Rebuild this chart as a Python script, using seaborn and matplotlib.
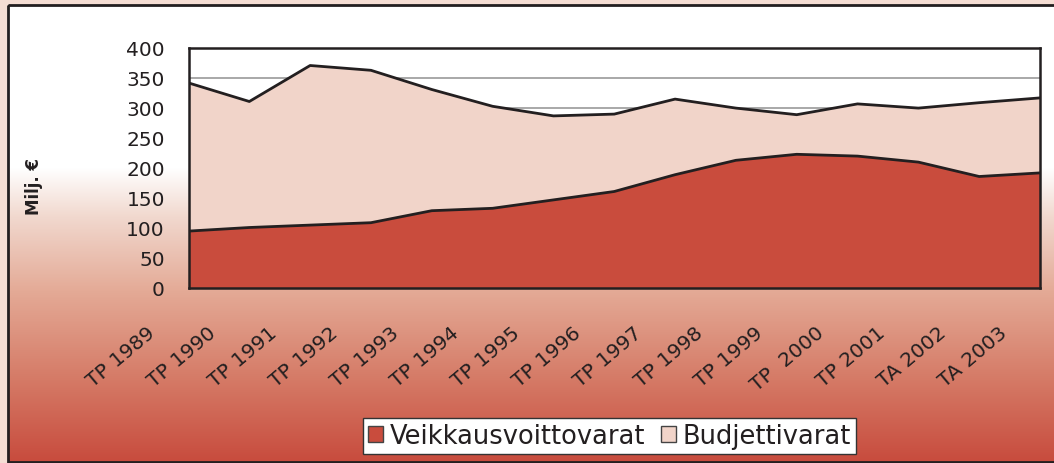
import numpy as np
import pandas as pd
import seaborn as sns
import matplotlib.pyplot as plt
import matplotlib.transforms as mtransforms
from matplotlib.patches import Patch, Rectangle

years = ['TP 1989', 'TP 1990', 'TP 1991', 'TP 1992', 'TP 1993', 'TP 1994', 'TP 1995',
         'TP 1996', 'TP 1997', 'TP 1998', 'TP 1999', 'TP  2000', 'TP 2001', 'TA 2002', 'TA 2003']
veikkaus = [94, 100, 104, 108, 128, 132, 146, 160, 188, 212, 222, 219, 209, 185, 191]
budjetti = [247, 210, 266, 254, 202, 170, 140, 129, 126, 87, 66, 87, 90, 123, 125]
yticks = [0, 50, 100, 150, 200, 250, 300, 350, 400]

RED = '#C94C3D'
PINK = '#F1D4C9'
DARK = '#231F20'

df = pd.DataFrame({'vuosi': years, 'Veikkausvoittovarat': veikkaus, 'Budjettivarat': budjetti})
df['x'] = np.arange(len(df))
df['yhteensa'] = df['Veikkausvoittovarat'] + df['Budjettivarat']

sns.set_theme(style='white')
plt.rcParams['font.family'] = ['DejaVu Sans']
plt.rcParams['text.color'] = DARK

W, H = 1054, 464
fig = plt.figure(figsize=(W / 100, H / 100), dpi=100)

# background: gradient panel with dark frame
bg = fig.add_axes([0, 0, 1, 1], zorder=-10)
bg.set_xlim(0, W)
bg.set_ylim(H, 0)
bg.axis('off')
stops_y = [0, 165, 215, 290, 380, 462, 464]
stops_c = np.array([(255, 255, 255), (255, 255, 255), (241, 216, 206), (228, 170, 150),
                    (213, 122, 102), (200, 76, 62), (200, 76, 62)]) / 255
yy = np.arange(H)
grad = np.stack([np.interp(yy, stops_y, stops_c[:, k]) for k in range(3)], axis=1)
img = np.repeat(grad[:, None, :], 2, axis=1)
bg.add_patch(Rectangle((0, 0), W, H, color='#F5DED4', zorder=0))
bg.imshow(img, extent=(8, W + 5, 463, 6), aspect='auto', zorder=1)
bg.add_patch(Rectangle((7.5, 5.5), W, 457, fill=False, edgecolor=DARK, lw=2, zorder=2))

ax = fig.add_axes([188.5 / W, 1 - 288.5 / H, (1040 - 188.5) / W, (288.5 - 48.5) / H])
ax.set_facecolor('white')

ax.fill_between(df['x'], 0, df['Veikkausvoittovarat'], color=RED, lw=0, zorder=2)
ax.fill_between(df['x'], df['Veikkausvoittovarat'], df['yhteensa'], color=PINK, lw=0, zorder=2)
sns.lineplot(data=df, x='x', y='Veikkausvoittovarat', color=DARK, lw=2, ax=ax, zorder=3)
sns.lineplot(data=df, x='x', y='yhteensa', color=DARK, lw=2, ax=ax, zorder=3)

ax.set_xlim(0, len(df) - 1)
ax.set_ylim(0, 400)
ax.set_yticks(yticks)
ax.set_yticklabels([str(v) for v in yticks], fontsize=14.5)
ax.yaxis.grid(True, color='#9A9A9A', lw=1.2, zorder=1)
ax.set_axisbelow(True)
for s in ax.spines.values():
    s.set_color(DARK)
    s.set_linewidth(1.8)
    s.set_zorder(4)

ax.tick_params(axis='both', direction='out', length=5, width=1.5, color=DARK, labelcolor=DARK)
ax.tick_params(axis='y', pad=12)
ax.set_xticks(df['x'])
ax.set_xticklabels(df['vuosi'], fontsize=14.5, rotation=40, ha='right', va='top',
                   rotation_mode='anchor')
offset = mtransforms.ScaledTranslation(-42 / 100, -23 / 100, fig.dpi_scale_trans)
for lab in ax.get_xticklabels():
    lab.set_transform(lab.get_transform() + offset)

ax.set_xlabel('')
ax.set_ylabel('')
fig.text(34 / W, 1 - 187 / H, 'Milj. €', rotation=90, ha='center', va='center',
         fontsize=12, fontweight='bold', color=DARK)

handles = [Patch(facecolor=RED, edgecolor='#444444', lw=1),
           Patch(facecolor=PINK, edgecolor='#444444', lw=1)]
leg = fig.legend(handles, ['Veikkausvoittovarat', 'Budjettivarat'], loc='center',
                 bbox_to_anchor=(609.5 / W, 1 - 437 / H), ncol=2, frameon=True,
                 fancybox=False, edgecolor='#333333', framealpha=1, fontsize=18.5,
                 handlelength=0.6, handleheight=0.6, handletextpad=0.25,
                 columnspacing=0.6, borderpad=0.2, borderaxespad=0)
leg.get_frame().set_linewidth(1)

fig.savefig('out.png', dpi=100)
